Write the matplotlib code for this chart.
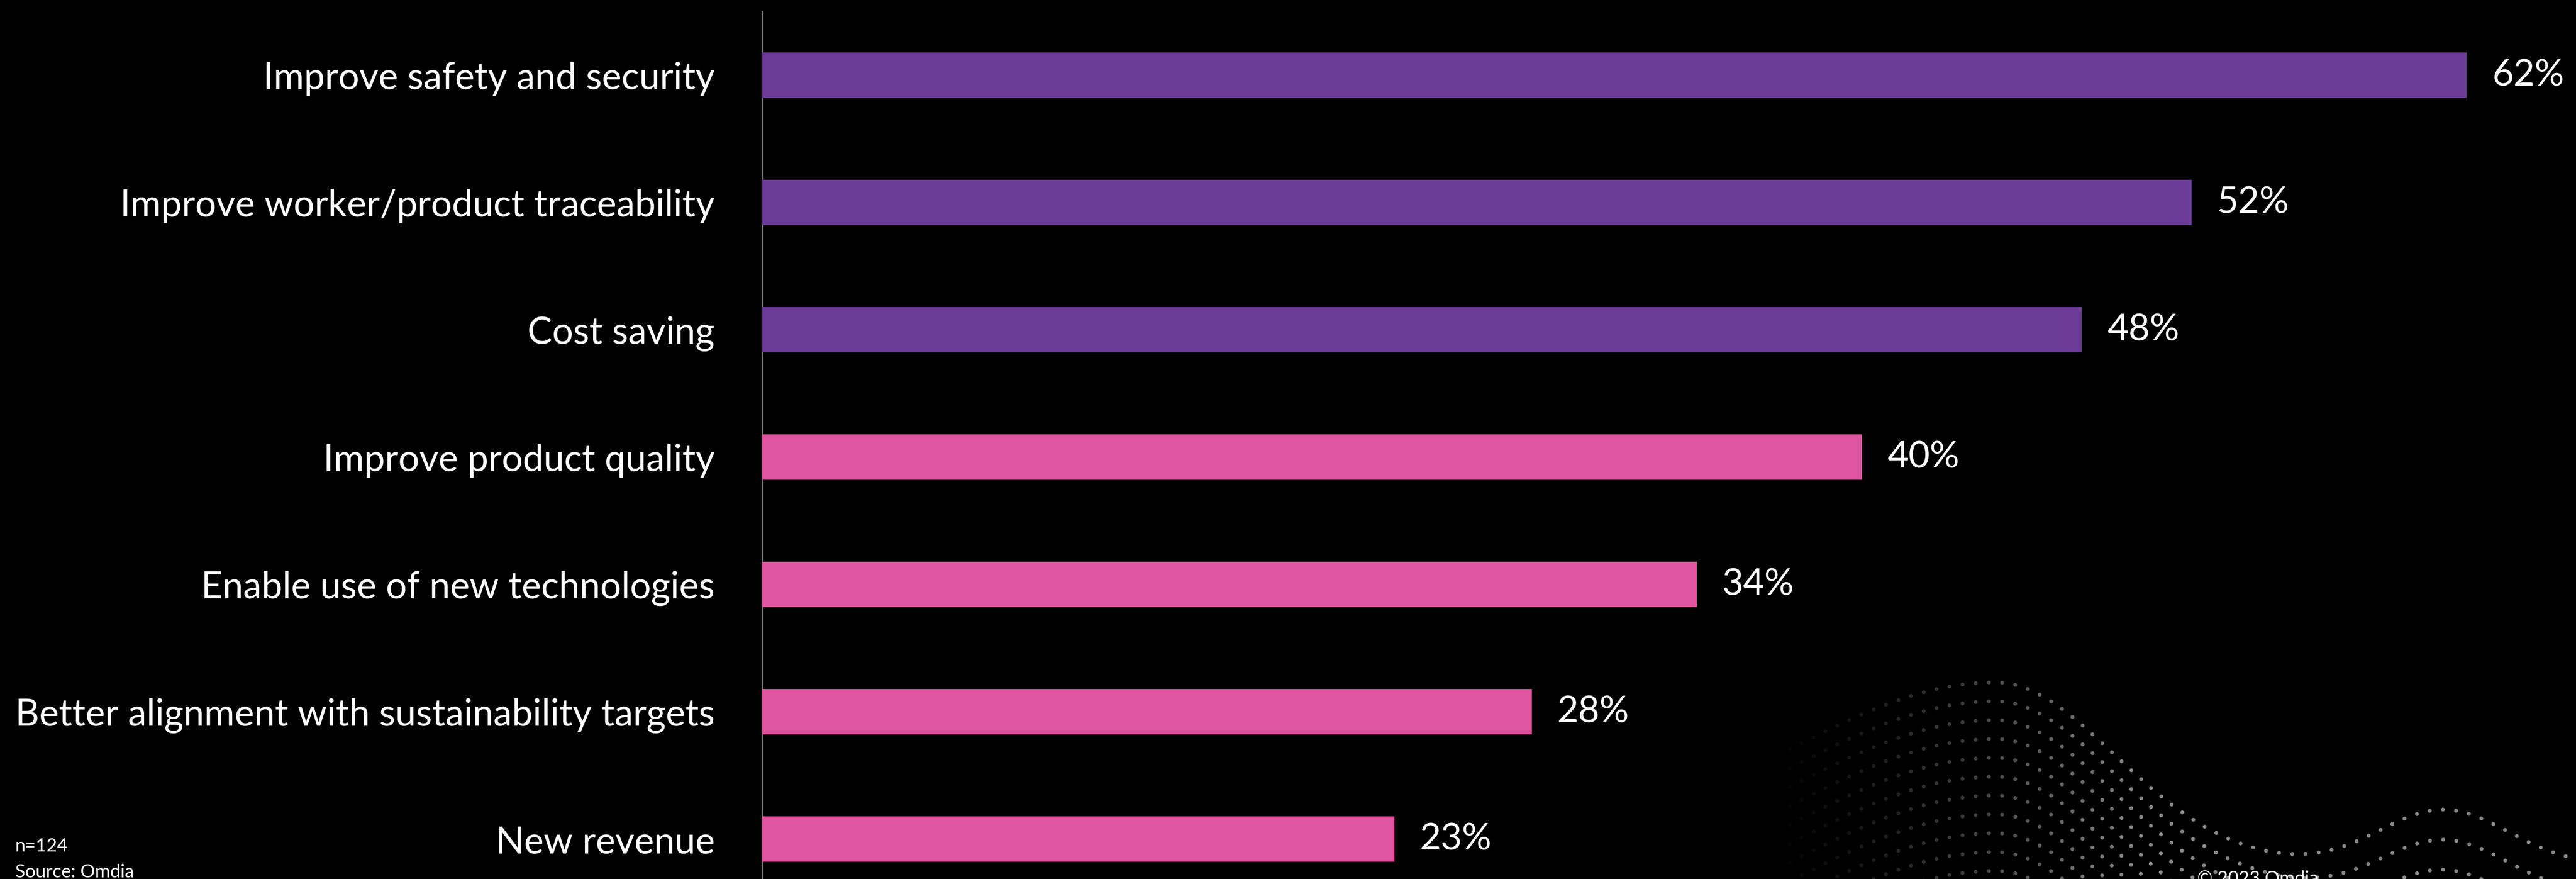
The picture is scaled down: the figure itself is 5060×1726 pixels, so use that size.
import numpy as np
import matplotlib
matplotlib.use("Agg")
from matplotlib import pyplot as plt

plt.rcParams['font.family'] = ['Lato', 'DejaVu Sans']

categories = [
    "Improve safety and security",
    "Improve worker/product traceability",
    "Cost saving",
    "Improve product quality",
    "Enable use of new technologies",
    "Better alignment with sustainability targets",
    "New revenue",
]
values = [62, 52, 48, 40, 34, 28, 23]
sample_note = "n=124"
source_note = "Source: Omdia"
copyright_note = "\u00a9 2023 Omdia"

PURPLE = "#6B3B97"
PINK = "#E0559F"
bar_colors = [PURPLE] * 3 + [PINK] * 4

W, H, DPI = 5060, 1726, 100


def wave_dots(bg):
    # decorative dotted wave in the lower right corner (pixel coordinates)
    x = np.linspace(3400, 5150, 6000)
    w = np.where(x < 3920, 600, 330)
    top = 1700 - 360 * np.exp(-((x - 3920) / w) ** 2) - 110 * np.exp(-((x - 4800) / 180) ** 2)
    gap = 37 + 23 / (1 + np.exp(-(x - 4550) / 80))
    px, py = [], []
    for k in range(14):
        y = top + k * gap
        seg = np.hypot(np.diff(x), np.diff(y))
        s = np.concatenate([[0], np.cumsum(seg)])
        si = np.arange(0, s[-1], 26)
        px.append(np.interp(si, s, x))
        py.append(np.interp(si, s, y))
    px = np.concatenate(px)
    py = np.concatenate(py)
    keep = (py < H + 10) & (px > 3400)
    px, py = px[keep], py[keep]
    a = np.clip((px - 3450) / 750, 0, 1) ** 1.3 * 0.72
    rgba = np.zeros((len(px), 4))
    rgba[:, :3] = 0.75
    rgba[:, 3] = a
    bg.scatter(px, py, s=30, c=rgba, linewidths=0)


fig = plt.figure(figsize=(W / DPI, H / DPI), dpi=DPI, facecolor="black")

bg = fig.add_axes([0, 0, 1, 1])
bg.set_xlim(0, W)
bg.set_ylim(H, 0)
bg.axis("off")
bg.set_facecolor("black")
wave_dots(bg)

left = 1497 / W
top = 1 - 23 / H
ax = fig.add_axes([left, 0, 1 - left, top])
ax.set_facecolor("none")

ypos = np.arange(len(categories))
ax.barh(ypos, values, height=0.356, color=bar_colors, zorder=3)
ax.set_xlim(0, (W - 1497) / 54.0)
ax.set_ylim((H - 148) / 250, -0.5)

for y, v in zip(ypos, values):
    ax.annotate(f"{v}%", xy=(v, y), xytext=(36, 0), textcoords="offset points",
                va="center", ha="left", color="white", fontsize=52)

ax.set_yticks(ypos)
ax.set_yticklabels(categories, color="white", fontsize=52.5)
ax.tick_params(axis="y", length=0, pad=67)
ax.set_xticks([])
for side in ["top", "right", "bottom"]:
    ax.spines[side].set_visible(False)
ax.spines["left"].set_color("#BFBFBF")
ax.spines["left"].set_linewidth(1.5)

fig.text(30 / W, 1 - 1672 / H, sample_note, color="white", fontsize=26, va="baseline")
fig.text(30 / W, 1 - 1723 / H, source_note, color="white", fontsize=26, va="baseline")
fig.text(4316 / W, 1 - 1736 / H, copyright_note, color="white", fontsize=26, va="baseline")

fig.savefig("out.png", dpi=DPI, facecolor="black")
